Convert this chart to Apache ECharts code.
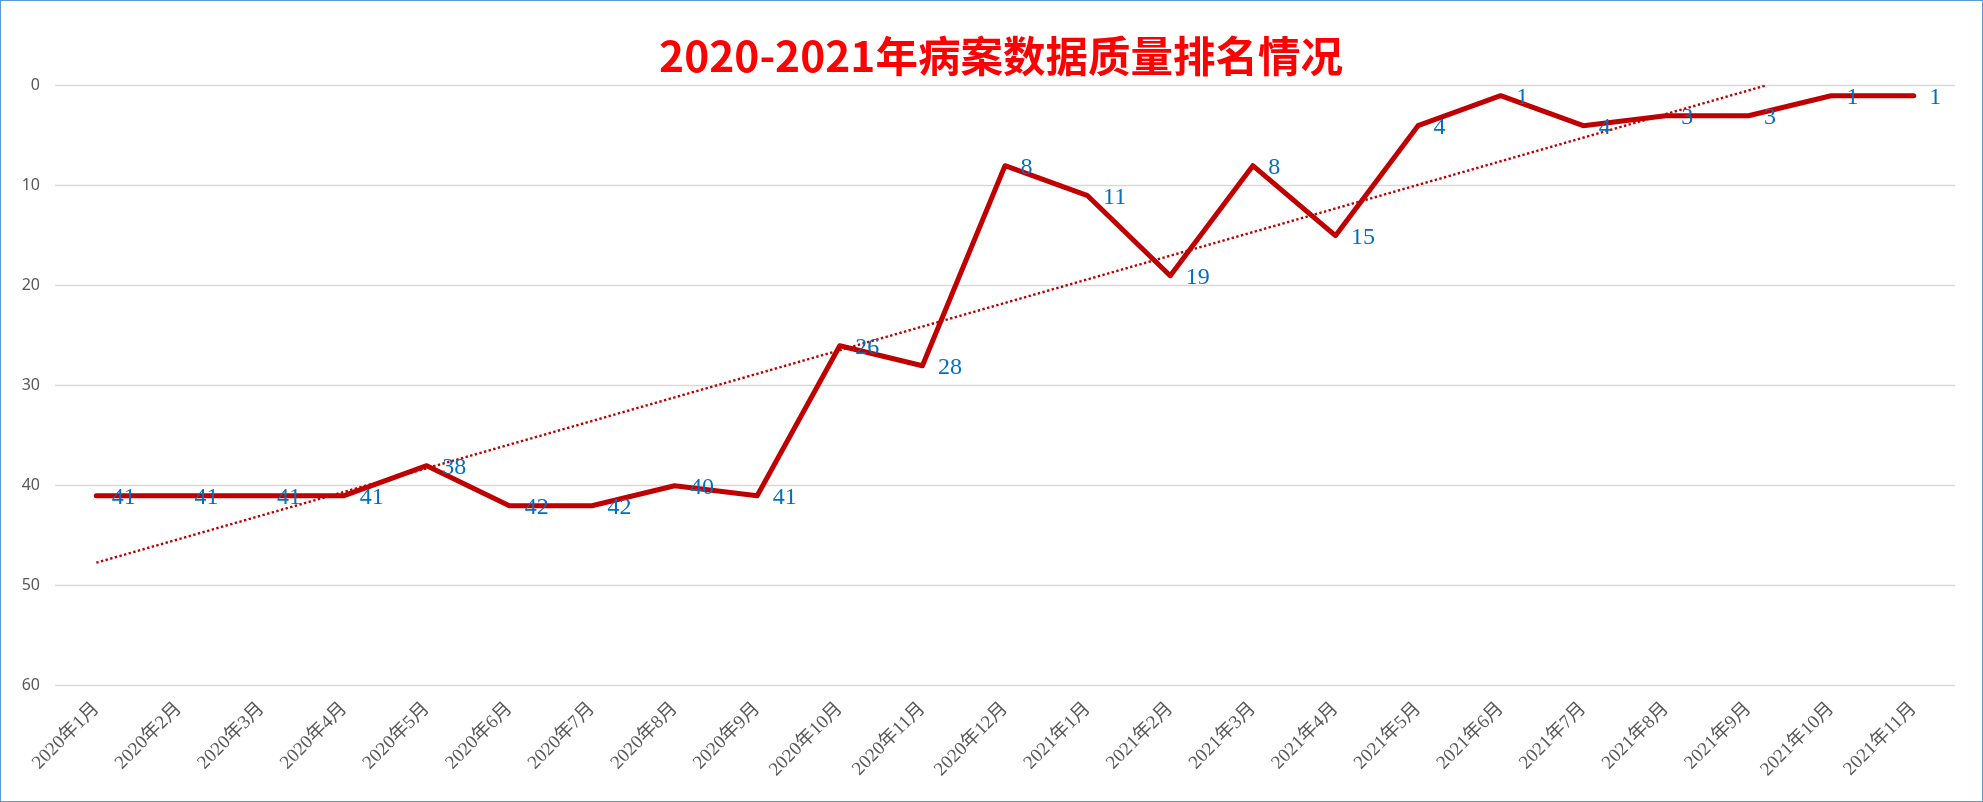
<!DOCTYPE html>
<html>
<head>
<meta charset="utf-8">
<script src="https://cdn.jsdelivr.net/npm/echarts@6/dist/echarts.min.js"></script>
<style>
html,body{margin:0;padding:0;background:#fff;}
#c{width:1983px;height:802px;box-sizing:border-box;border:1px solid #5B9BD5;}
</style>
</head>
<body>
<div id="c"></div>
<script>
const titleText = '2020-2021年病案数据质量排名情况';
const categories = ['2020年1月','2020年2月','2020年3月','2020年4月','2020年5月','2020年6月','2020年7月','2020年8月','2020年9月','2020年10月','2020年11月','2020年12月','2021年1月','2021年2月','2021年3月','2021年4月','2021年5月','2021年6月','2021年7月','2021年8月','2021年9月','2021年10月','2021年11月'];
const ranks = [41,41,41,41,38,42,42,40,41,26,28,8,11,19,8,15,4,1,4,3,3,1,1];
// linear trendline endpoints: [category position, value]
const trendStart = [0, 47.7];
const trendEnd = [20.2, 0];
const yTicks = [0, 60, 10]; // min, max, interval

const chart = echarts.init(document.getElementById('c'));
chart.setOption({
  animation: false,
  backgroundColor: '#fff',
  title: {
    text: titleText,
    left: 995,
    textAlign: 'center',
    top: 29,
    textStyle: {color: '#FF0000', fontSize: 42.5, fontWeight: 'bold', fontFamily: '"Noto Sans CJK SC", sans-serif'}
  },
  grid: {left: 54, right: 27, top: 84.7, bottom: 115.3, containLabel: false},
  xAxis: [{
    type: 'category',
    data: categories,
    boundaryGap: true,
    axisLine: {show: false},
    axisTick: {show: false},
    axisLabel: {rotate: 45, margin: 20, interval: 0, color: '#595959', fontSize: 19,
      fontFamily: '"Liberation Serif", "Noto Sans CJK SC", serif'}
  }, {
    type: 'value', min: -0.5, max: categories.length - 0.5, show: false
  }],
  yAxis: {
    type: 'value',
    inverse: true,
    min: yTicks[0], max: yTicks[1], interval: yTicks[2],
    axisLine: {show: false},
    axisTick: {show: false},
    splitLine: {lineStyle: {color: '#D9D9D9', width: 1.3}},
    axisLabel: {margin: 15, color: '#595959', fontSize: 16, fontFamily: '"Noto Sans", sans-serif'}
  },
  series: [{
    type: 'line',
    xAxisIndex: 1,
    data: [trendStart, trendEnd],
    symbol: 'none',
    lineStyle: {color: '#C00000', width: 2.4, type: [2.4, 2.4]},
    z: 3
  }, {
    type: 'line',
    xAxisIndex: 0,
    data: ranks,
    symbol: 'circle',
    symbolSize: 1,
    itemStyle: {opacity: 0},
    lineStyle: {color: '#C00000', width: 5, cap: 'round', join: 'round'},
    label: {show: true, position: 'right', distance: 15, offset: [0, 2], color: '#0070C0', fontSize: 24,
      fontFamily: '"Liberation Serif", serif', opacity: 1},
    z: 4
  }]
});
</script>
</body>
</html>
